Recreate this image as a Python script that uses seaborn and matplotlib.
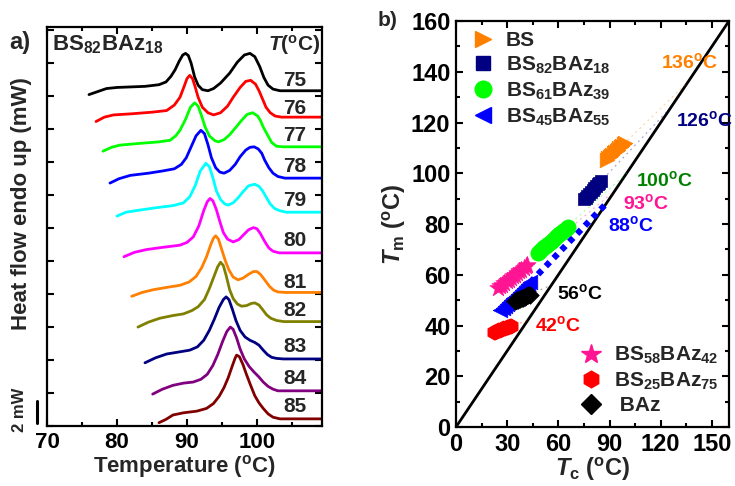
import numpy as np
import pandas as pd
import matplotlib
matplotlib.use("Agg")
import matplotlib.pyplot as plt
from matplotlib.lines import Line2D
from matplotlib.ticker import MultipleLocator, NullFormatter
import seaborn as sns

# ---------------------------------------------------------------------------
# a) DSC heating traces of BS82BAz18 after isothermal crystallisation at Tc
# ---------------------------------------------------------------------------
tc_labels = ["75", "76", "77", "78", "79", "80", "81", "82", "83", "84", "85"]
trace_colors = ["#000000", "#FF0000", "#00FF00", "#0000FF", "#00FFFF", "#FF00FF",
                "#FF8000", "#808000", "#000080", "#800080", "#800000"]

t_75 = [76.0, 78.5, 80.0, 84.0, 86.0, 87.0, 87.7, 88.3, 88.9, 89.4, 89.8, 90.2, 90.6, 91.1, 91.6, 92.2, 93.0, 93.8, 94.8, 96.1, 97.2, 98.2, 99.0, 99.7, 100.4, 101.0, 101.6, 102.3, 103.3, 109.3]
q_75 = [30.15, 30.7, 30.8, 30.9, 31.05, 31.3, 31.8, 32.4, 33.2, 33.75, 33.9, 33.7, 33.0, 31.75, 31.0, 30.6, 30.5, 30.7, 31.2, 32.1, 33.1, 33.75, 33.9, 33.6, 32.7, 31.7, 31.0, 30.65, 30.5, 30.5]
t_76 = [77.0, 78.2, 79.5, 82.0, 85.0, 87.1, 88.2, 89.0, 89.6, 90.0, 90.4, 90.8, 91.2, 91.6, 92.2, 93.0, 93.8, 94.8, 95.8, 96.6, 97.6, 98.4, 99.1, 99.8, 100.3, 100.7, 101.3, 101.9, 102.6, 103.5, 109.3]
q_76 = [27.7, 28.1, 28.3, 28.4, 28.55, 28.7, 29.2, 29.9, 30.9, 31.6, 31.9, 31.6, 30.8, 29.9, 29.0, 28.5, 28.3, 28.5, 29.1, 29.9, 30.8, 31.35, 31.45, 31.1, 30.5, 29.9, 29.0, 28.5, 28.2, 28.1, 28.1]
t_77 = [78.0, 79.2, 80.4, 83.0, 86.0, 87.6, 88.4, 89.0, 89.8, 90.5, 91.1, 91.6, 92.1, 92.6, 93.2, 94.0, 94.5, 95.3, 96.1, 96.9, 97.8, 98.6, 99.4, 100.1, 100.5, 100.9, 101.5, 102.1, 102.8, 103.8, 109.3]
q_77 = [25.0, 25.35, 25.55, 25.7, 25.85, 26.0, 26.4, 26.9, 27.9, 29.0, 29.4, 29.1, 28.2, 27.2, 26.4, 25.95, 25.85, 26.05, 26.5, 27.1, 27.8, 28.35, 28.5, 28.2, 27.8, 27.2, 26.5, 25.8, 25.45, 25.4, 25.4]
t_78 = [79.0, 80.3, 81.9, 84.5, 86.5, 88.2, 89.2, 89.9, 90.6, 91.3, 92.0, 92.5, 93.0, 93.5, 94.1, 94.7, 95.3, 96.1, 96.9, 97.6, 98.4, 99.0, 99.6, 100.2, 100.7, 101.1, 101.7, 102.3, 103.0, 104.0, 109.3]
q_78 = [22.1, 22.5, 22.8, 23.0, 23.2, 23.4, 23.8, 24.4, 25.4, 26.4, 26.9, 26.6, 25.6, 24.4, 23.5, 23.1, 23.0, 23.25, 23.8, 24.5, 25.1, 25.35, 25.4, 25.2, 24.8, 24.2, 23.5, 23.0, 22.7, 22.55, 22.55]
t_79 = [80.0, 81.3, 82.8, 85.5, 88.0, 89.5, 90.4, 91.2, 91.9, 92.7, 93.2, 93.7, 94.2, 94.8, 95.4, 95.9, 96.6, 97.3, 98.0, 98.8, 99.7, 100.3, 100.8, 101.3, 101.9, 102.5, 103.2, 104.2, 109.3]
q_79 = [19.1, 19.45, 19.6, 19.85, 20.05, 20.3, 20.85, 21.9, 23.2, 23.9, 23.6, 22.6, 21.4, 20.6, 20.2, 20.1, 20.3, 20.75, 21.3, 21.85, 22.0, 21.8, 21.4, 20.85, 20.2, 19.8, 19.6, 19.45, 19.45]
t_80 = [81.0, 82.5, 84.2, 86.5, 89.0, 90.0, 90.9, 91.7, 92.4, 92.9, 93.3, 93.7, 94.2, 94.7, 95.2, 95.8, 96.6, 97.4, 98.1, 98.8, 99.5, 100.0, 100.5, 101.1, 101.7, 102.3, 103.2, 109.3]
q_80 = [15.4, 15.8, 16.05, 16.25, 16.45, 16.7, 17.2, 18.2, 19.6, 20.4, 20.7, 20.5, 19.7, 18.6, 17.6, 17.0, 16.75, 16.95, 17.4, 17.85, 18.05, 17.95, 17.5, 16.8, 16.2, 15.9, 15.75, 15.75]
t_81 = [82.1, 83.6, 85.2, 87.0, 89.0, 90.3, 91.3, 92.1, 92.8, 93.4, 93.8, 94.1, 94.5, 95.0, 95.5, 96.0, 96.6, 97.3, 98.0, 98.8, 99.5, 100.0, 100.5, 101.1, 101.8, 102.4, 103.0, 104.0, 109.3]
q_81 = [11.8, 12.15, 12.4, 12.6, 12.8, 13.1, 13.6, 14.4, 15.4, 16.5, 17.1, 17.3, 17.0, 16.0, 15.0, 14.2, 13.55, 13.3, 13.45, 13.8, 14.05, 14.05, 13.8, 13.3, 12.7, 12.35, 12.2, 12.15, 12.15]
t_82 = [83.0, 84.5, 86.1, 88.0, 89.5, 90.7, 91.6, 92.5, 93.2, 93.8, 94.4, 94.8, 95.2, 95.6, 96.1, 96.6, 97.2, 97.8, 98.5, 99.2, 99.7, 100.3, 100.8, 101.4, 102.0, 102.8, 103.8, 109.3]
q_82 = [9.0, 9.45, 9.8, 10.05, 10.2, 10.5, 10.85, 11.5, 12.5, 13.5, 14.5, 14.9, 14.6, 13.7, 12.4, 11.6, 11.1, 10.9, 10.95, 11.15, 11.2, 11.0, 10.6, 10.1, 9.8, 9.6, 9.5, 9.5]
t_83 = [84.0, 85.5, 87.1, 89.0, 90.4, 91.5, 92.4, 93.2, 93.9, 94.6, 95.2, 95.6, 96.0, 96.5, 97.0, 97.6, 98.3, 99.0, 99.7, 100.3, 100.9, 101.5, 102.1, 102.8, 103.8, 109.3]
q_83 = [5.75, 6.2, 6.55, 6.75, 6.9, 7.2, 7.8, 8.7, 9.7, 10.8, 11.5, 11.75, 11.5, 10.6, 9.6, 8.7, 8.1, 7.8, 7.6, 7.35, 6.9, 6.5, 6.25, 6.15, 6.1, 6.1]
t_84 = [85.1, 86.5, 88.0, 89.5, 90.9, 92.0, 92.9, 93.7, 94.4, 95.1, 95.7, 96.2, 96.6, 97.1, 97.6, 98.2, 98.9, 99.6, 100.3, 100.9, 101.6, 102.3, 103.0, 104.0, 109.3]
q_84 = [2.9, 3.35, 3.7, 3.9, 4.0, 4.25, 4.7, 5.5, 6.5, 7.7, 8.6, 9.0, 8.8, 8.0, 7.0, 6.1, 5.4, 4.9, 4.45, 4.0, 3.6, 3.35, 3.2, 3.2, 3.2]
t_85 = [86.0, 87.0, 88.0, 89.5, 91.4, 92.8, 93.8, 94.6, 95.3, 95.9, 96.5, 96.9, 97.1, 97.5, 98.0, 98.5, 99.1, 99.7, 100.3, 100.9, 101.6, 102.3, 103.3, 109.3]
q_85 = [0.3, 0.6, 1.0, 1.2, 1.35, 1.6, 2.05, 2.7, 3.5, 4.4, 5.5, 6.2, 6.45, 6.3, 5.6, 4.7, 3.7, 2.75, 2.1, 1.6, 1.1, 0.8, 0.65, 0.65]

trace_t = [t_75, t_76, t_77, t_78, t_79, t_80, t_81, t_82, t_83, t_84, t_85]
trace_q = [q_75, q_76, q_77, q_78, q_79, q_80, q_81, q_82, q_83, q_84, q_85]
# vertical centre of each Tc label (mW, same scale as the traces)
label_q = [31.45, 28.9, 26.45, 23.6, 20.5, 16.9, 13.1, 10.5, 7.2, 4.3, 1.8]
scale_bar_mw = 2.0

# ---------------------------------------------------------------------------
# b) Hoffman-Weeks plot: melting vs crystallisation temperature
# ---------------------------------------------------------------------------
tc_bs = [88.6, 89.3, 90.2, 91.0, 91.7, 92.6, 93.4, 94.1, 95.0, 95.8, 96.5, 97.4, 98.2, 99.0]
tm_bs = [105.2, 105.9, 106.3, 106.9, 107.3, 107.9, 108.2, 108.9, 109.3, 109.9, 110.3, 110.9, 111.5, 111.9]
tc_bs82 = [75, 76, 77, 78, 79, 80, 81, 82, 83, 84, 85]
tm_bs82 = [89.8, 90.4, 91.1, 92.0, 92.7, 93.3, 94.1, 94.8, 95.6, 96.2, 97.1]
tc_bs61 = [48.0, 49.2, 50.5, 51.6, 53.0, 54.1, 55.4, 56.6, 58.0, 59.1, 60.5, 61.7, 63.0, 64.2, 65.5]
tm_bs61 = [68.6, 69.4, 70.0, 70.8, 71.5, 72.3, 72.9, 73.7, 74.4, 75.1, 75.9, 76.6, 77.3, 78.1, 78.8]
tc_bs45 = [26.0, 27.3, 28.5, 29.8, 31.1, 32.4, 33.6, 34.9, 36.2, 37.4, 38.7, 40.0, 41.2, 42.4, 43.5]
tm_bs45 = [46.1, 46.9, 47.7, 48.4, 49.3, 50.0, 50.8, 51.6, 52.4, 53.2, 54.0, 54.8, 55.6, 56.3, 57.0]
tc_bs58 = [24.7, 25.9, 27.2, 28.4, 29.6, 30.9, 32.1, 33.4, 34.6, 35.8, 37.1, 38.3, 39.6, 40.8, 41.8]
tm_bs58 = [54.8, 55.4, 56.1, 56.8, 57.4, 58.1, 58.7, 59.4, 60.0, 60.7, 61.3, 62.0, 62.6, 63.3, 63.8]
tc_bs25 = [22.0, 22.9, 23.9, 24.8, 25.8, 26.7, 27.7, 28.6, 29.6, 30.5, 31.5, 32.4]
tm_bs25 = [37.3, 37.5, 37.8, 38.1, 38.3, 38.6, 38.9, 39.1, 39.4, 39.6, 39.8, 40.0]
tc_baz = [34.5, 35.5, 36.4, 37.4, 38.4, 39.3, 40.3, 41.3, 42.3, 43.5]
tm_baz = [49.6, 49.9, 50.2, 50.5, 50.8, 51.0, 51.3, 51.6, 51.9, 52.2]

# equilibrium melting points (intersection with Tm = Tc)
tm0 = {"BS": 136, "BS82": 126, "BS61": 100, "BS58": 93, "BS45": 88, "BS25": 42, "BAz": 56}

DEG = r"$^{\rm o}$C"

sns.set_theme(style="ticks")
plt.rcParams.update({
    "font.family": ["Liberation Sans", "DejaVu Sans"],
    "font.weight": "bold",
    "axes.labelweight": "bold",
    "mathtext.fontset": "custom",
    "mathtext.rm": "Liberation Sans:bold",
    "mathtext.bf": "Liberation Sans:bold",
    "mathtext.it": "Liberation Sans:italic:bold",
    "axes.linewidth": 1.6,
    "axes.edgecolor": "black",
    "xtick.color": "black",
    "ytick.color": "black",
    "lines.solid_joinstyle": "round",
    "lines.solid_capstyle": "round",
})

W, H = 735, 486
fig = plt.figure(figsize=(W / 100, H / 100), dpi=100)


def px_box(l, t, r, b):
    return [l / W, 1 - b / H, (r - l) / W, (b - t) / H]


def style_ticks(ax, size):
    ax.tick_params(which="both", direction="in", top=True, right=True,
                   width=1.5, labelsize=size, pad=4)
    ax.tick_params(which="major", length=5)
    ax.tick_params(which="minor", length=3)
    for lab in ax.get_xticklabels() + ax.get_yticklabels():
        lab.set_fontweight("bold")


# ----- panel a -----
ax1 = fig.add_axes(px_box(47, 27, 322, 426))
rows = []
for lab, ts, qs in zip(tc_labels, trace_t, trace_q):
    for t, q in zip(ts, qs):
        rows.append({"Temperature": t, "Heat flow": q, "Tc": lab})
dsc = pd.DataFrame(rows)
sns.lineplot(data=dsc, x="Temperature", y="Heat flow", hue="Tc",
             palette=dict(zip(tc_labels, trace_colors)), sort=False,
             estimator=None, linewidth=2.0, legend=False, ax=ax1)
for lab, q in zip(tc_labels, label_q):
    ax1.text(105.4, q, lab, ha="center", va="center", fontsize=15, fontweight="bold")
ax1.text(0.995, 0.955, r"$\mathit{T}$(" + DEG + ")", transform=ax1.transAxes,
         ha="right", va="center", fontsize=15, fontweight="bold")
ax1.text(0.02, 0.955, r"BS$_{82}$BAz$_{18}$", transform=ax1.transAxes,
         ha="left", va="center", fontsize=16, fontweight="bold")
ax1.set_xlim(70, 109.3)
ax1.set_ylim(0, 36.3)
ax1.xaxis.set_major_locator(MultipleLocator(10))
ax1.xaxis.set_minor_locator(MultipleLocator(5))
ax1.yaxis.set_major_locator(MultipleLocator(3))
ax1.yaxis.set_major_formatter(NullFormatter())
style_ticks(ax1, 16)
ax1.set_xlabel("Temperature (" + DEG + ")", fontsize=16, fontweight="bold", labelpad=0)
ax1.set_ylabel("")
ax1.plot([68.6, 68.6], [0.3, 0.3 + scale_bar_mw], color="black", lw=2.2, clip_on=False)

fig.text(22 / W, 1 - 204 / H, "Heat flow endo up (mW)", rotation=90,
         ha="center", va="center", fontsize=16, fontweight="bold")
fig.text(19 / W, 1 - 410 / H, "2 mW", rotation=90, ha="center", va="center",
         fontsize=12, fontweight="bold")
fig.text(20 / W, 1 - 42 / H, "a)", ha="center", va="center", fontsize=17, fontweight="bold")

# ----- panel b -----
ax2 = fig.add_axes(px_box(456, 21, 729, 427))
ax2.plot([0, 160], [0, 160], color="black", lw=2.0, zorder=1)

series = [
    ("BS", tc_bs, tm_bs, ">", "#FF8000", 110),
    ("BS82", tc_bs82, tm_bs82, "s", "#000080", 85),
    ("BS61", tc_bs61, tm_bs61, "o", "#00FF00", 120),
    ("BS45", tc_bs45, tm_bs45, "<", "#0000FF", 110),
    ("BS58", tc_bs58, tm_bs58, "*", "#FF1493", 170),
    ("BS25", tc_bs25, tm_bs25, "h", "#FF0000", 120),
    ("BAz", tc_baz, tm_baz, "D", "#000000", 80),
]

for key, tc, tm, mk, col, sz in series:
    if key == "BS45":
        ax2.plot([tc[-1], tm0[key]], [tm[-1], tm0[key]], color=col, lw=4.5,
                 ls=(0, (0.9, 0.9)), zorder=2)
    else:
        ax2.plot([tc[0], tm0[key]], [tm[0], tm0[key]], color=col, lw=0.9,
                 ls=(0, (1.5, 3)), alpha=0.35, zorder=2)
    sns.scatterplot(x=tc, y=tm, marker=mk, s=sz, color=col, edgecolor=col,
                    linewidth=0.5, legend=False, ax=ax2, zorder=3)

annotations = [
    ("136", 120, 143.8, "#FF8000"),
    ("126", 128.8, 121.0, "#000080"),
    ("100", 105.3, 97.3, "#008000"),
    ("93", 97.6, 88.3, "#FF1493"),
    ("88", 88.8, 79.6, "#0000FF"),
    ("56", 59.4, 52.8, "#000000"),
    ("42", 46.5, 40.2, "#FF0000"),
]
for txt, x, y, col in annotations:
    ax2.text(x, y, txt + DEG, color=col, ha="left", va="center",
             fontsize=14, fontweight="bold")

ax2.set_xlim(0, 160)
ax2.set_ylim(0, 160)
ax2.xaxis.set_major_locator(MultipleLocator(30))
ax2.xaxis.set_minor_locator(MultipleLocator(15))
ax2.yaxis.set_major_locator(MultipleLocator(20))
ax2.yaxis.set_minor_locator(MultipleLocator(10))
style_ticks(ax2, 17)
ax2.set_xlabel(r"$\mathit{T}_{\rm c}$ (" + DEG + ")", fontsize=17, fontweight="bold", labelpad=0)
ax2.set_ylabel(r"$\mathit{T}_{\rm m}$ (" + DEG + ")", fontsize=17, fontweight="bold", labelpad=2)
fig.text(388 / W, 1 - 20 / H, "b)", ha="center", va="center", fontsize=15, fontweight="bold")


def handle(mk, col, ms):
    return Line2D([], [], marker=mk, ls="", color=col, markeredgecolor=col, markersize=ms)


leg1 = ax2.legend(
    [handle(">", "#FF8000", 12), handle("s", "#000080", 10),
     handle("o", "#00FF00", 12), handle("<", "#0000FF", 12)],
    ["BS", r"BS$_{82}$BAz$_{18}$", r"BS$_{61}$BAz$_{39}$", r"BS$_{45}$BAz$_{55}$"],
    loc="upper left", bbox_to_anchor=(0.06, 0.975), frameon=False,
    prop={"size": 15, "weight": "bold"}, handlelength=1.0, handletextpad=0.6,
    labelspacing=0.22, borderaxespad=0, borderpad=0)
ax2.add_artist(leg1)
ax2.legend(
    [handle("*", "#FF1493", 15), handle("h", "#FF0000", 12), handle("D", "#000000", 10)],
    [r"BS$_{58}$BAz$_{42}$", r"BS$_{25}$BAz$_{75}$", " BAz"],
    loc="lower left", bbox_to_anchor=(0.455, 0.03), frameon=False,
    prop={"size": 15, "weight": "bold"}, handlelength=1.0, handletextpad=0.6,
    labelspacing=0.2, borderaxespad=0, borderpad=0)

fig.savefig("out.png", dpi=100)
